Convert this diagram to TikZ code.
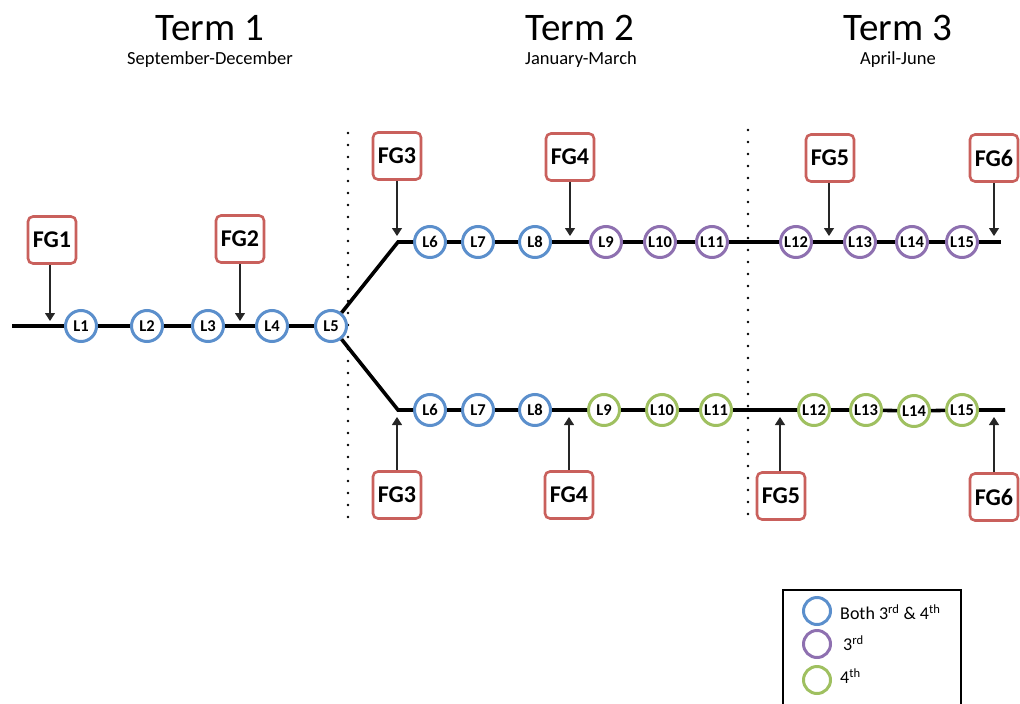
\documentclass[tikz,border=0pt]{standalone}
\usepackage{fontspec}
\setmainfont{Carlito}
\usetikzlibrary{arrows.meta}
\definecolor{fgred}{HTML}{C9605C}
\definecolor{lblue}{HTML}{5B8FCC}
\definecolor{lpurple}{HTML}{8E70B0}
\definecolor{lgreen}{HTML}{9FC060}
\tikzset{
  fg/.style={draw=fgred, line width=2.6pt, fill=white, rounded corners=5pt,
    minimum width=48pt, minimum height=47pt, font=\fontsize{24}{26}\selectfont\bfseries, inner sep=0pt},
  les/.style={circle, line width=3pt, fill=white, minimum size=31pt, inner sep=0pt,
    font=\fontsize{16.5}{17}\selectfont\bfseries},
  lb/.style={les, draw=lblue},
  lp/.style={les, draw=lpurple},
  lg/.style={les, draw=lgreen},
  track/.style={line width=3.6pt, black},
  arr/.style={line width=1.2pt, black!85, -{Triangle[width=10pt,length=8pt]}},
  dots/.style={line width=2.6pt, line cap=round, dash pattern=on 0pt off 12pt},
  term/.style={font=\fontsize{39}{41}\selectfont},
  months/.style={font=\fontsize{18.5}{20}\selectfont},
  legc/.style={circle, line width=3pt, minimum size=27pt, inner sep=0pt},
  legt/.style={anchor=west, font=\fontsize{18}{20}\selectfont, inner sep=0pt}
}
\begin{document}
\begin{tikzpicture}[x=1pt,y=1pt]
\useasboundingbox (0,0) rectangle (1020,-704);
% titles
\node[term] (t1) at (210,-28) {Term 1};
\node[months] (m1) at (210,-60) {September-December};
\node[term] (t2) at (580,-28) {Term 2};
\node[months] (m2) at (581,-60) {January-March};
\node[term] (t3) at (898,-28) {Term 3};
\node[months] (m3) at (898,-60) {April-June};
% dotted separators
\coordinate (d1a) at (348,-133); \coordinate (d1b) at (348,-520);
\coordinate (d2a) at (748,-130); \coordinate (d2b) at (748,-520);
\draw[dots] (d1a) -- (d1b);
\draw[dots] (d2a) -- (d2b);
% main track nodes
\coordinate (s) at (12,-326);
\node[lb] (a1) at (81,-326) {L1};
\node[lb] (a2) at (147,-326) {L2};
\node[lb] (a3) at (208,-326) {L3};
\node[lb] (a4) at (272,-326) {L4};
\node[lb] (a5) at (331,-326) {L5};
% upper branch
\coordinate (ub) at (398,-242);
\node[lb] (u6) at (430,-242) {L6};
\node[lb] (u7) at (478,-242) {L7};
\node[lb] (u8) at (535,-242) {L8};
\node[lp] (u9) at (606,-242) {L9};
\node[lp] (u10) at (660,-242) {L10};
\node[lp] (u11) at (712,-242) {L11};
\node[lp] (u12) at (796,-242) {L12};
\node[lp] (u13) at (860,-242) {L13};
\node[lp] (u14) at (912,-242) {L14};
\node[lp] (u15) at (962,-242) {L15};
\coordinate (ue) at (1001,-242);
% lower branch
\coordinate (lbk) at (398,-410);
\node[lb] (l6) at (430,-410) {L6};
\node[lb] (l7) at (478,-410) {L7};
\node[lb] (l8) at (535,-410) {L8};
\node[lg] (l9) at (604,-410) {L9};
\node[lg] (l10) at (662,-410) {L10};
\node[lg] (l11) at (716,-410) {L11};
\node[lg] (l12) at (814,-410) {L12};
\node[lg] (l13) at (866,-410) {L13};
\node[lg] (l14) at (914,-411) {L14};
\node[lg] (l15) at (962,-410) {L15};
\coordinate (le) at (1005,-410);
% tracks
\draw[track] (s) -- (a1) (a1) -- (a2) (a2) -- (a3) (a3) -- (a4) (a4) -- (a5);
\draw[track,line join=miter] (a5) -- (ub) -- (u6);
\draw[track] (u6) -- (u7) (u7) -- (u8) (u8) -- (u9) (u9) -- (u10) (u10) -- (u11)
  (u11) -- (u12) (u12) -- (u13) (u13) -- (u14) (u14) -- (u15) (u15) -- (ue);
\draw[track,line join=miter] (a5) -- (lbk) -- (l6);
\draw[track] (l6) -- (l7) (l7) -- (l8) (l8) -- (l9) (l9) -- (l10) (l10) -- (l11)
  (l11) -- (l12) (l12) -- (l13) (l13) -- (l14) (l14) -- (l15) (l15) -- (le);
% FG boxes
\node[fg] (fg1) at (52,-240) {FG1};
\node[fg] (fg2) at (240,-239) {FG2};
\node[fg] (fg3u) at (397,-156) {FG3};
\node[fg] (fg4u) at (570,-157) {FG4};
\node[fg] (fg5u) at (830,-158) {FG5};
\node[fg] (fg6u) at (994,-158) {FG6};
\node[fg] (fg3l) at (397,-495) {FG3};
\node[fg] (fg4l) at (569,-495) {FG4};
\node[fg] (fg5l) at (781,-496) {FG5};
\node[fg] (fg6l) at (994,-497) {FG6};
% arrow tips
\coordinate (p1) at (50,-321);
\coordinate (p2) at (240,-321);
\coordinate (p3u) at (397,-236);
\coordinate (p4u) at (570,-236);
\coordinate (p5u) at (829,-236);
\coordinate (p6u) at (994,-236);
\coordinate (p3l) at (397,-417);
\coordinate (p4l) at (569,-417);
\coordinate (p5l) at (780,-417);
\coordinate (p6l) at (994,-417);
\draw[arr] (fg1.south -| p1) -- (p1);
\draw[arr] (fg2) -- (p2);
\draw[arr] (fg3u) -- (p3u);
\draw[arr] (fg4u.south -| p4u) -- (p4u);
\draw[arr] (fg5u.south -| p5u) -- (p5u);
\draw[arr] (fg6u) -- (p6u);
\draw[arr] (fg3l) -- (p3l);
\draw[arr] (fg4l) -- (p4l);
\draw[arr] (fg5l.north -| p5l) -- (p5l);
\draw[arr] (fg6l) -- (p6l);
% legend
\draw[line width=1.3pt] (783,-712) -- (783,-590) -- (961,-590) -- (961,-712);
\node[legc, draw=lblue] (k1) at (817,-611) {};
\node[legc, draw=lpurple] (k2) at (817,-644) {};
\node[legc, draw=lgreen] (k3) at (817,-680) {};
\node[legt] (kt1) at (840,-612) {Both 3\textsuperscript{rd} \& 4\textsuperscript{th}};
\node[legt] (kt2) at (843,-643) {3\textsuperscript{rd}};
\node[legt] (kt3) at (840,-676) {4\textsuperscript{th}};
\end{tikzpicture}
\end{document}
